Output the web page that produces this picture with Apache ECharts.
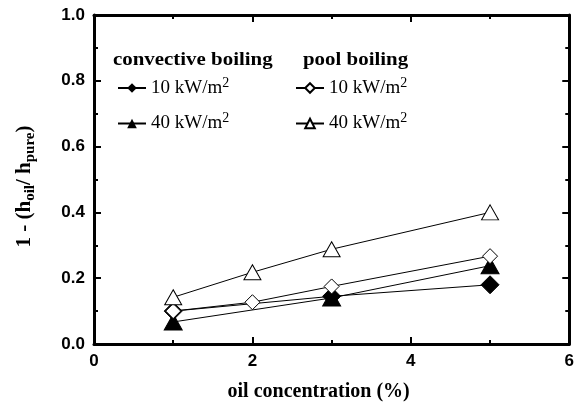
<!DOCTYPE html>
<html><head><meta charset="utf-8">
<script src="https://cdn.jsdelivr.net/npm/echarts@6/dist/echarts.min.js"></script>
<style>html,body{margin:0;padding:0;background:#fff}#c{width:577px;height:407px}</style>
</head><body><div id="c"></div>
<script>
const convX = [1, 3, 5];
const conv10 = [0.10, 0.145, 0.18];
const conv40 = [0.067, 0.14, 0.238];
const poolX = [1, 2, 3, 5];
const pool10 = [0.10, 0.127, 0.175, 0.267];
const pool40 = [0.142, 0.218, 0.288, 0.40];
const xTicks = [0, 2, 4, 6];
const yTicks = [0.0, 0.2, 0.4, 0.6, 0.8, 1.0];

const pairs = (xs, ys) => xs.map((x, i) => [x, ys[i]]);
const serif = 'Liberation Serif';
const sans = 'Liberation Sans';

const chart = echarts.init(document.getElementById('c'));
function mkX(show) {
  return {
    type: 'value', min: xTicks[0], max: xTicks[xTicks.length - 1], interval: 2, position: show ? 'bottom' : 'top',
    axisLine: {show: true, onZero: false, lineStyle: {color: '#000', width: 3}},
    axisTick: {show: true, inside: true, length: 7, lineStyle: {color: '#000', width: 2}},
    minorTick: {show: true, splitNumber: 2, length: 4, lineStyle: {color: '#000', width: 2}},
    axisLabel: {show: show, color: '#000', fontFamily: sans, fontWeight: 'bold', fontSize: 17, margin: 9},
    splitLine: {show: false},
    name: show ? 'oil concentration (%)' : '', nameLocation: 'middle', nameGap: 38,
    nameTextStyle: {color: '#000', fontFamily: serif, fontWeight: 'bold', fontSize: 20, padding: [0, 26, 0, 0]}
  };
}
function mkY(show) {
  return {
    type: 'value', min: yTicks[0], max: yTicks[yTicks.length - 1], interval: 0.2, position: show ? 'left' : 'right',
    axisLine: {show: true, onZero: false, lineStyle: {color: '#000', width: 3}},
    axisTick: {show: true, inside: true, length: 7, lineStyle: {color: '#000', width: 2}},
    minorTick: {show: true, splitNumber: 2, length: 4, lineStyle: {color: '#000', width: 2}},
    axisLabel: {show: show, color: '#000', fontFamily: sans, fontWeight: 'bold', fontSize: 17, margin: 9,
      formatter: v => v.toFixed(1)},
    splitLine: {show: false},
    name: show ? '{n|1 - (h}{s|oil}{n|/ h}{s|pure}{n|)}' : '', nameLocation: 'middle', nameGap: 56,
    nameTextStyle: {color: '#000', fontFamily: serif, fontWeight: 'bold', fontSize: 21,
      padding: [0, 14, 0, 0],
      rich: {
        n: {fontFamily: serif, fontWeight: 'bold', fontSize: 21, color: '#000'},
        s: {fontFamily: serif, fontWeight: 'bold', fontSize: 15, color: '#000', padding: [12, 0, 0, 0]}
      }}
  };
}
const lineStyle = {color: '#000', width: 1};
const legendRich = {
  t: {fontFamily: serif, fontSize: 19, color: '#000'},
  sup: {fontFamily: serif, fontSize: 14, color: '#000', padding: [0, 0, 10, 0]}
};
const fmt = name => '{t|' + name.split('|')[1] + ' kW/m}{sup|2}';
chart.setOption({
  animation: false,
  grid: {left: 94, right: 4, top: 15, bottom: 62},
  xAxis: [mkX(true), mkX(false)],
  yAxis: [mkY(true), mkY(false)],
  graphic: [
    {type: 'text', left: 113, top: 51, style: {text: 'convective boiling', font: 'bold 19px "Liberation Serif"', fill: '#000'}, scaleX: 1.1},
    {type: 'text', left: 303, top: 51, style: {text: 'pool boiling', font: 'bold 19px "Liberation Serif"', fill: '#000'}, scaleX: 1.1}
  ],
  legend: [
    {data: ['c|10', 'c|40'], orient: 'vertical', left: 112, top: 71, itemWidth: 28, itemHeight: 12, itemGap: 14,
      formatter: fmt, textStyle: {rich: legendRich}},
    {data: ['p|10', 'p|40'], orient: 'vertical', left: 290, top: 71, itemWidth: 28, itemHeight: 12, itemGap: 14,
      formatter: fmt, textStyle: {rich: legendRich}}
  ],
  series: [
    {name: 'c|10', type: 'line', xAxisIndex: 0, yAxisIndex: 0, data: pairs(convX, conv10), symbol: 'diamond', symbolSize: 18,
      itemStyle: {color: '#000', borderColor: '#000'}, lineStyle: lineStyle, z: 3},
    {name: 'c|40', type: 'line', xAxisIndex: 0, yAxisIndex: 0, data: pairs(convX, conv40), symbol: 'triangle', symbolSize: [18, 16],
      itemStyle: {color: '#000', borderColor: '#000'}, lineStyle: lineStyle, z: 3},
    {name: 'p|10', type: 'line', xAxisIndex: 0, yAxisIndex: 0, data: pairs(poolX, pool10), symbol: 'diamond', symbolSize: 15,
      itemStyle: {color: '#fff', borderColor: '#000', borderWidth: 1}, lineStyle: lineStyle, z: 4},
    {name: 'p|40', type: 'line', xAxisIndex: 0, yAxisIndex: 0, data: pairs(poolX, pool40), symbol: 'triangle', symbolSize: [17, 15],
      itemStyle: {color: '#fff', borderColor: '#000', borderWidth: 1}, lineStyle: lineStyle, z: 4}
  ]
});
</script></body></html>
